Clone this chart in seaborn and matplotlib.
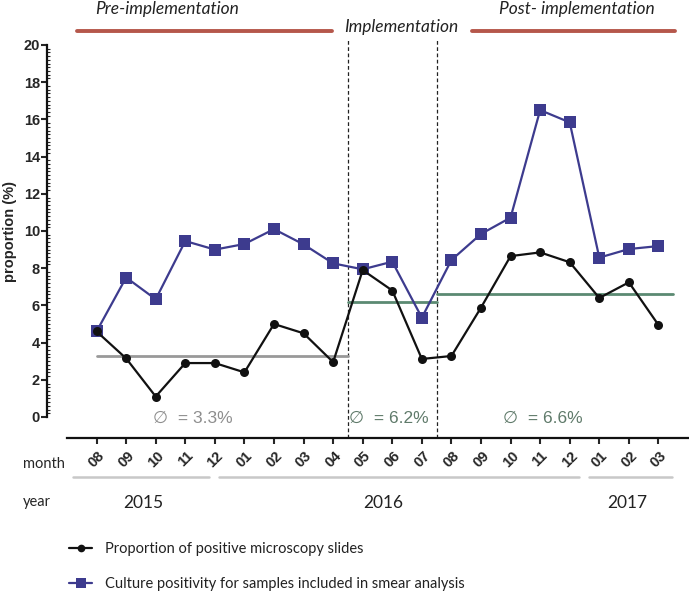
import matplotlib
matplotlib.use("Agg")
import matplotlib.pyplot as plt
import matplotlib.transforms as mtransforms
from matplotlib.ticker import MultipleLocator
import seaborn as sns

# ---------------------------------------------------------------
# DATA
# ---------------------------------------------------------------
months = ["08", "09", "10", "11", "12", "01", "02", "03", "04", "05",
          "06", "07", "08", "09", "10", "11", "12", "01", "02", "03"]
years = ["2015", "2016", "2017"]
microscopy = [4.6, 3.15, 1.1, 2.9, 2.9, 2.4, 5.0, 4.5, 2.95, 7.9,
              6.8, 3.12, 3.28, 5.88, 8.65, 8.85, 8.32, 6.4, 7.24, 4.95]
culture = [4.6, 7.5, 6.33, 9.46, 9.0, 9.3, 10.1, 9.28, 8.26, 7.94,
           8.35, 5.34, 8.44, 9.84, 10.72, 16.5, 15.84, 8.57, 9.03, 9.19]
phases = ["Pre-implementation", "Implementation", "Post- implementation"]
phase_means = [3.3, 6.2, 6.6]
legend_labels = ["Proportion of positive microscopy slides",
                 "Culture positivity for samples included in smear analysis"]

x = list(range(len(months)))

# ---------------------------------------------------------------
# STYLE
# ---------------------------------------------------------------
sns.set_style("ticks")
plt.rcParams["font.family"] = ["Liberation Sans", "DejaVu Sans"]
CAL = ["Lato", "DejaVu Sans"]
NAVY = "#3d3b8e"
BROWN = "#b5574b"
GREEN = "#5b8a72"

W, H = 689, 596
fig = plt.figure(figsize=(W / 100, H / 100), dpi=100)
ax = fig.add_axes([67 / W, (H - 417) / H, (688 - 67) / W, (417 - 45) / H])


def fy(py):
    # pixel row -> figure fraction
    return (H - py) / H


bt = mtransforms.blended_transform_factory(ax.transData, fig.transFigure)

# ---------------------------------------------------------------
# SERIES
# ---------------------------------------------------------------
sns.lineplot(x=x, y=microscopy, ax=ax, color="#111111", lw=1.6,
             marker="o", markersize=6.5, markeredgewidth=0,
             label=legend_labels[0], zorder=4)
sns.lineplot(x=x, y=culture, ax=ax, color=NAVY, lw=1.6,
             marker="s", markersize=9, markeredgewidth=0,
             label=legend_labels[1], zorder=3)

# phase means
ax.plot([0, 8.5], [phase_means[0]] * 2, color="#999999", lw=2, zorder=2)
ax.plot([8.5, 11.5], [phase_means[1]] * 2, color=GREEN, lw=2, zorder=2)
ax.plot([11.5, 19.5], [phase_means[2]] * 2, color=GREEN, lw=2, zorder=2)

for xb in (8.5, 11.5):
    ax.plot([xb, xb], [-1.13, 20.3], color="#222222", lw=0.9,
            ls=(0, (3, 2)), clip_on=False, zorder=1)

ax.text(1.9, -0.05, "\u2205  = %.1f%%" % phase_means[0], color="#8e8e8e",
        fontsize=12.5, va="center", ha="left")
ax.text(8.55, -0.05, "\u2205  = %.1f%%" % phase_means[1], color="#5f7a6a",
        fontsize=12.5, va="center", ha="left")
ax.text(13.75, -0.05, "\u2205  = %.1f%%" % phase_means[2], color="#5f7a6a",
        fontsize=12.5, va="center", ha="left")

# ---------------------------------------------------------------
# AXES
# ---------------------------------------------------------------
ax.set_xlim(-1, 20)
ax.set_ylim(0, 20)
ax.spines["top"].set_visible(False)
ax.spines["right"].set_visible(False)
ax.spines["left"].set_position(("outward", 14.4))
ax.spines["bottom"].set_position(("outward", 15.1))
ax.spines["left"].set_bounds(0, 20)
for s in ("left", "bottom"):
    ax.spines[s].set_linewidth(1.6)
    ax.spines[s].set_color("#111111")

ax.yaxis.set_major_locator(MultipleLocator(2))
ax.yaxis.set_minor_locator(MultipleLocator(0.2))
ax.tick_params(axis="y", which="major", direction="out", length=4,
               width=1.5, labelsize=10.5, pad=1)
ax.tick_params(axis="y", which="minor", direction="in", length=2.5,
               width=0.8)
for lab in ax.get_yticklabels():
    lab.set_fontweight("bold")

ax.set_xticks(x)
ax.set_xticklabels(months, rotation=45, ha="center", fontweight="bold")
ax.tick_params(axis="x", which="major", direction="out", length=4.5,
               width=1.5, labelsize=10.5, pad=3)

ax.set_ylabel("proportion (%)", fontsize=10.5, fontweight="bold", labelpad=5)

# month / year rows
fig.text(23 / W, fy(464), "month", family=CAL, fontsize=10.5, va="center")
fig.text(23 / W, fy(502), "year", family=CAL, fontsize=10.5, va="center")
for x0, x1 in ((-0.8, 3.8), (4.15, 16.3), (16.65, 19.45)):
    ax.plot([x0, x1], [fy(477)] * 2, transform=bt, color="#c8c8c8",
            lw=1.8, clip_on=False)
for xc, yr in zip((1.57, 9.7, 17.94), years):
    ax.text(xc, fy(503), yr, transform=bt, family=CAL, fontsize=12.5,
            ha="center", va="center", color="#222222")

# phase banner
ax.plot([-0.66, 7.96], [fy(31)] * 2, transform=bt, color=BROWN, lw=2.8,
        clip_on=False, solid_capstyle="round")
ax.plot([12.7, 19.57], [fy(31)] * 2, transform=bt, color=BROWN, lw=2.8,
        clip_on=False, solid_capstyle="round")
ax.text(2.4, fy(9), phases[0], transform=bt, family=CAL, style="italic",
        fontsize=12.5, ha="center", va="center", color="#222222")
ax.text(10.3, fy(27), phases[1], transform=bt, family=CAL, style="italic",
        fontsize=12.5, ha="center", va="center", color="#222222")
ax.text(16.25, fy(9), phases[2], transform=bt, family=CAL, style="italic",
        fontsize=12.5, ha="center", va="center", color="#222222")

# legend
leg = ax.legend(loc="upper left", bbox_to_anchor=(66 / W, fy(539)),
                bbox_transform=fig.transFigure, frameon=False,
                prop={"family": CAL, "size": 10.5}, handlelength=1.6,
                handletextpad=0.9, labelspacing=1.45, markerscale=0.85,
                borderaxespad=0, borderpad=0.2)
for t in leg.get_texts():
    t.set_color("#222222")

fig.savefig("out.png", dpi=100)
